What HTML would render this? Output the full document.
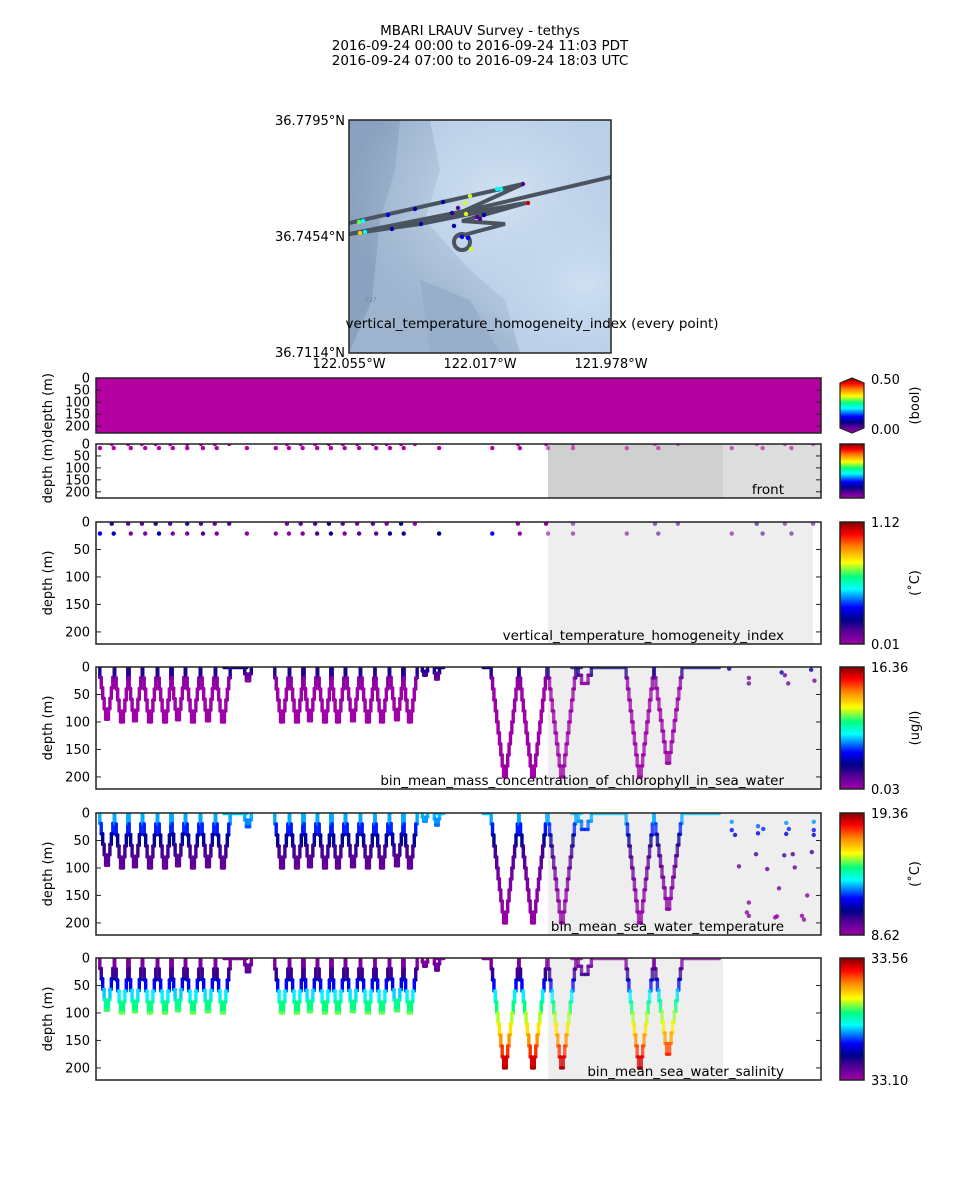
<!DOCTYPE html>
<html><head><meta charset="utf-8">
<style>
html,body{margin:0;padding:0;background:#fff;}
svg{display:block;font-family:"DejaVu Sans","Liberation Sans",sans-serif;}
</style></head>
<body>
<svg id="chart" width="960" height="1200" viewBox="0 0 960 1200" xmlns="http://www.w3.org/2000/svg">
<defs>
<linearGradient id="cmap" x1="0" y1="1" x2="0" y2="0">
<stop offset="0" stop-color="#a000a8"/><stop offset="0.1" stop-color="#5a0098"/><stop offset="0.2" stop-color="#000088"/>
<stop offset="0.3" stop-color="#0000ff"/><stop offset="0.45" stop-color="#00ffff"/><stop offset="0.55" stop-color="#00ff80"/>
<stop offset="0.67" stop-color="#ffff00"/><stop offset="0.8" stop-color="#ff8000"/><stop offset="0.9" stop-color="#ff0000"/><stop offset="1" stop-color="#800000"/>
</linearGradient>
<radialGradient id="m1" cx="0.6" cy="0.35" r="0.6"><stop offset="0" stop-color="#d6e4f3"/><stop offset="1" stop-color="#b7cde6" stop-opacity="0"/></radialGradient>
<radialGradient id="m2" cx="0.9" cy="0.7" r="0.5"><stop offset="0" stop-color="#cfe0f2"/><stop offset="1" stop-color="#b7cde6" stop-opacity="0"/></radialGradient>
<clipPath id="mapclip"><rect x="349" y="120" width="262" height="233"/></clipPath>
</defs>
<g font-size="13.5" text-anchor="middle" fill="#000" xml:space="preserve" style="white-space:pre">
<text x="480" y="35">MBARI LRAUV Survey - tethys</text>
<text x="480" y="50">2016-09-24 00:00  to  2016-09-24 11:03 PDT</text>
<text x="480" y="65">2016-09-24 07:00  to  2016-09-24 18:03 UTC</text>
</g>
<g>
<g clip-path="url(#mapclip)">
<rect x="349" y="120" width="262" height="233" fill="#9db3ce"/>
<path d="M349 120 L400 120 L395 170 L380 220 L372 300 L349 353Z" fill="#8aa2bf"/>
<path d="M430 120 L611 120 L611 353 L520 353 L505 300 L470 270 L425 220 L440 170Z" fill="#b9cfe8"/>
<rect x="349" y="120" width="262" height="233" fill="url(#m1)"/>
<rect x="349" y="120" width="262" height="233" fill="url(#m2)"/>
<path d="M420 280 L470 300 L500 353 L430 353Z" fill="#97afcb"/>
<g fill="none" stroke="#4a5360" stroke-width="4" stroke-linecap="round">
<path d="M349 223 L523 184 L453 216 L526 203 L462 221 L505 224 L460 236"/>
<path d="M349 234 L470 210 L611 177"/>
<path d="M349 234 L420 224 L520 204"/>
<circle cx="462" cy="242" r="8"/>
</g>
<text x="365" y="302" font-size="6" font-style="italic" fill="#6b7f99">737</text>
</g>
<g id="mapdots"></g>
<rect x="349" y="120" width="262" height="233" fill="none" stroke="#222" stroke-width="1.5"/>
<g font-size="13" fill="#000">
<text x="345" y="125" text-anchor="end">36.7795°N</text>
<text x="345" y="241" text-anchor="end">36.7454°N</text>
<text x="345" y="357" text-anchor="end">36.7114°N</text>
<text x="349" y="368" text-anchor="middle">122.055°W</text>
<text x="480" y="368" text-anchor="middle">122.017°W</text>
<text x="611" y="368" text-anchor="middle">121.978°W</text>
<text x="532" y="328" text-anchor="middle" font-size="13.5">vertical_temperature_homogeneity_index (every point)</text>
</g>
</g>
<g id="panels"></g>
</svg>
<script>
// ---- data ----
var timeDomain = [0, 11.05];
var depthTicks = [0, 50, 100, 150, 200];
var diveTimes = [0.168,0.396,0.594,0.823,1.052,1.25,1.478,1.707,1.935,2.317,2.835,3.063,3.261,3.49,3.688,3.917,4.145,4.359,4.587,4.785,5.014,5.197,6.233,6.66,7.102,7.45,8.29,8.72];
var diveDepths = [95,100,98,100,100,96,100,98,100,25,100,100,98,100,100,98,100,100,96,100,15,22,200,200,200,30,200,175];
var diveHalfWidth = [0.11,0.11,0.11,0.11,0.11,0.11,0.11,0.11,0.11,0.05,0.11,0.11,0.11,0.11,0.11,0.11,0.11,0.11,0.11,0.11,0.04,0.04,0.21,0.21,0.21,0.1,0.21,0.21];
var surfaceRuns = [[1.95,2.3],[5.2,5.3],[5.9,6.02],[7.25,7.4],[7.55,8.05],[8.95,9.5]];
var topRowTimes = [0.24,0.49,0.70,0.91,1.13,1.39,1.60,1.81,2.03,2.91,3.12,3.34,3.55,3.76,3.98,4.22,4.43,4.65,4.86,6.43,6.86,7.27,8.52,8.87,10.07,10.50,10.93];
var topRowVals = [0.15,0.08,0.1,0.15,0.1,0.15,0.1,0.08,0.1,0.05,0.1,0.1,0.2,0.1,0.05,0.1,0.05,0.2,0.02,0.02,0.02,0.05,0.12,0.1,0.2,0.05,0.1];
var botRowTimes = [0.06,0.27,0.53,0.75,0.96,1.17,1.39,1.63,1.84,2.30,2.74,2.94,3.15,3.37,3.58,3.79,4.01,4.27,4.48,4.69,5.23,6.04,6.46,6.89,7.27,8.09,8.57,9.69,10.16,10.60];
var botRowVals = [0.28,0.25,0.05,0.05,0.25,0.05,0.05,0.12,0.05,0.02,0.02,0.02,0.05,0.12,0.2,0.05,0.1,0.1,0.2,0.18,0.2,0.3,0.02,0.02,0.05,0.05,0.1,0.05,0.12,0.08];
var tempScatterT = [9.69,9.69,9.74,9.80,9.95,9.92,9.95,10.06,10.09,10.09,10.17,10.23,10.41,10.35,10.38,10.49,10.52,10.52,10.56,10.62,10.65,10.84,10.76,10.79,10.91,10.94,10.94,10.94];
var tempScatterD = [16,31,40,97,163,181,187,75,24,37,29,102,137,190,188,77,18,38,29,75,99,150,187,194,71,16,31,40];
var chlScatterT = [9.65,9.95,9.95,10.45,10.5,10.55,10.9,10.95];
var chlScatterD = [3,20,30,10,15,30,5,25];
var chlKnotsD = [0,10,25,50,250], chlKnotsV = [0.2,0.16,0.03,0,0];
var tempKnotsD = [0,20,40,70,100,150,250], tempKnotsV = [0.42,0.38,0.25,0.13,0.08,0.03,0];
var salKnotsD = [0,25,50,75,100,125,150,175,200,250], salKnotsV = [0.02,0.1,0.3,0.48,0.6,0.68,0.78,0.88,0.97,1];

var panels = [
 {name:'homogeneity-every-point', top:378, bot:433, dmax:228, cb:['0.50','0.00'], unit:'(bool)', arrows:true},
 {name:'front', top:444, bot:498, dmax:226, cb:null, unit:null, label:'front'},
 {name:'vertical-temperature-homogeneity', top:522, bot:644, dmax:222, cb:['1.12','0.01'], unit:'(\u02daC)', label:'vertical_temperature_homogeneity_index'},
 {name:'chlorophyll', top:667, bot:789, dmax:222, cb:['16.36','0.03'], unit:'(ug/l)', label:'bin_mean_mass_concentration_of_chlorophyll_in_sea_water'},
 {name:'temperature', top:813, bot:935, dmax:222, cb:['19.36','8.62'], unit:'(\u02daC)', label:'bin_mean_sea_water_temperature'},
 {name:'salinity', top:958, bot:1080, dmax:222, cb:['33.56','33.10'], unit:null, label:'bin_mean_sea_water_salinity'}
];

// ---- helpers ----
var NS='http://www.w3.org/2000/svg';
var X0=96, X1=821, SH0=548;
function xs(t){return X0+(t-timeDomain[0])/(timeDomain[1]-timeDomain[0])*(X1-X0);}
function mk(tag,attrs,parent){var e=document.createElementNS(NS,tag);for(var k in attrs)e.setAttribute(k,attrs[k]);parent.appendChild(e);return e;}
var stops=[[0,[160,0,168]],[0.1,[90,0,152]],[0.2,[0,0,136]],[0.3,[0,0,255]],[0.45,[0,255,255]],[0.55,[0,255,128]],[0.67,[255,255,0]],[0.8,[255,128,0]],[0.9,[255,0,0]],[1,[128,0,0]]];
function cmap(v){v=Math.max(0,Math.min(1,v));for(var i=1;i<stops.length;i++){if(v<=stops[i][0]){var a=stops[i-1],b=stops[i],f=(v-a[0])/(b[0]-a[0]);return 'rgb('+[0,1,2].map(function(j){return Math.round(a[1][j]+f*(b[1][j]-a[1][j]));}).join(',')+')';}}return 'rgb(128,0,0)';}
function interp(d,kd,kv){for(var i=1;i<kd.length;i++){if(d<=kd[i]){var f=(d-kd[i-1])/(kd[i]-kd[i-1]);return kv[i-1]+f*(kv[i]-kv[i-1]);}}return kv[kv.length-1];}

var root=document.getElementById('panels');
panels.forEach(function(p,pi){
 var g=mk('g',{},root);
 
 
 var ys=function(d){return p.top+d/p.dmax*(p.bot-p.top);};
 var clipId='clip'+pi;
 var cp=mk('clipPath',{id:clipId},g);mk('rect',{x:X0,y:p.top,width:X1-X0,height:p.bot-p.top},cp);
 var body=mk('g',{'clip-path':'url(#'+clipId+')'},g);
 if(pi===0){var r=mk('rect',{x:X0,y:p.top,width:X1-X0,height:p.bot-p.top,fill:'#b400a0'},body);}
 if(pi===1){mk('rect',{x:SH0,y:p.top,width:723-SH0,height:p.bot-p.top,fill:'#d0d0d0'},body);mk('rect',{x:723,y:p.top,width:X1-723,height:p.bot-p.top,fill:'#dddddd'},body);}
 if(pi===2)mk('rect',{x:SH0,y:p.top,width:813-SH0,height:p.bot-p.top,fill:'#eeeeee'},body);
 if(pi===3||pi===4)mk('rect',{x:SH0,y:p.top,width:X1-SH0,height:p.bot-p.top,fill:'#eeeeee'},body);
 if(pi===5)mk('rect',{x:SH0,y:p.top,width:723-SH0,height:p.bot-p.top,fill:'#eeeeee'},body);
 if(pi===1||pi===2){
  topRowTimes.forEach(function(t,i){var c=mk('circle',{cx:xs(t),cy:ys(pi===1?0:3),r:2.2,fill:pi===1?'#b400a8':cmap(topRowVals[i]),opacity:xs(t)>SH0?0.6:1},body);});
  botRowTimes.forEach(function(t,i){var c=mk('circle',{cx:xs(t),cy:ys(pi===1?17:21),r:2.2,fill:pi===1?'#b400a8':cmap(botRowVals[i]),opacity:xs(t)>SH0?0.6:1},body);});
 }
 if(pi>=3){
  var kd=pi===3?chlKnotsD:pi===4?tempKnotsD:salKnotsD, kv=pi===3?chlKnotsV:pi===4?tempKnotsV:salKnotsV;
  function seg(t1,d1,t2,d2){var op=xs(t1)>SH0-2?0.75:1;var l=mk('line',{x1:xs(t1),y1:ys(d1),x2:xs(t2),y2:ys(d2),stroke:cmap(interp((d1+d2)/2,kd,kv)),'stroke-width':3.4,'stroke-linecap':'round',opacity:op},body);}
  surfaceRuns.forEach(function(r){seg(r[0],1,r[1],1);});
  diveTimes.forEach(function(tb,i){
   var D=diveDepths[i],hw=diveHalfWidth[i],n=Math.max(2,Math.round(D/20));
   for(var s=0;s<n;s++){
    var d1=D*s/n,d2=D*(s+1)/n;
    var ta=tb-hw+hw*s/n,tb2=tb-hw+hw*(s+1)/n;
    seg(ta,d1,ta,d2);seg(ta,d2,tb2,d2);
    var ua=tb+hw-hw*s/n,ub=tb+hw-hw*(s+1)/n;
    seg(ua,d1,ua,d2);seg(ua,d2,ub,d2);
   }
  });
  if(pi===4)tempScatterT.forEach(function(t,i){var c=mk('circle',{cx:xs(t),cy:ys(tempScatterD[i]),r:2.2,fill:cmap(interp(tempScatterD[i],kd,kv)),opacity:0.8},body);});
  if(pi===3)chlScatterT.forEach(function(t,i){var c=mk('circle',{cx:xs(t),cy:ys(chlScatterD[i]),r:2.2,fill:cmap(chlScatterD[i]<12?0.22:0.05),opacity:0.8},body);});
 }
 mk('rect',{x:X0,y:p.top,width:X1-X0,height:p.bot-p.top,fill:'none',stroke:'#222','stroke-width':1.5},g);
 depthTicks.forEach(function(d){var y=ys(d);if(y>p.bot+1)return;mk('line',{x1:X0,y1:y,x2:X0+5,y2:y,stroke:'#222'},g);mk('line',{x1:X1,y1:y,x2:X1-5,y2:y,stroke:'#222'},g);
  var tx=mk('text',{x:X0-6,y:y+4.5,'font-size':13,'text-anchor':'end'},g);tx.textContent=d;});
 var yl=mk('text',{x:0,y:0,'font-size':13,'text-anchor':'middle',transform:'translate(52,'+((p.top+p.bot)/2)+') rotate(-90)'},g);yl.textContent='depth (m)';
 
 if(p.label){var pl=mk('text',{x:784,y:p.bot-4,'font-size':13.5,'text-anchor':'end'},g);pl.textContent=p.label;}
 var cb=mk('g',{},g);
 if(p.arrows){
  mk('path',{d:'M840 '+(p.top+5)+' L852 '+(p.top)+' L864 '+(p.top+5)+' L864 '+(p.bot-5)+' L852 '+p.bot+' L840 '+(p.bot-5)+'Z',fill:'url(#cmap)',stroke:'#222','stroke-width':1.2},cb);
 } else {
  mk('rect',{x:840,y:p.top,width:24,height:p.bot-p.top,fill:'url(#cmap)',stroke:'#222','stroke-width':1.5},cb);
 }
 if(p.cb){var a=mk('text',{x:871,y:p.top+(p.arrows?6:5),'font-size':13},cb);a.textContent=p.cb[0];var b=mk('text',{x:871,y:p.bot+(p.arrows?1:5),'font-size':13},cb);b.textContent=p.cb[1];}
 if(p.unit){var u=mk('text',{x:0,y:0,'font-size':13,'text-anchor':'middle',transform:'translate(919,'+((p.top+p.bot)/2)+') rotate(-90)'},cb);u.textContent=p.unit;}
});

var mapDotLon=[359,363,388,415,443,465,470,497,501,523,528,360,365,392,421,452,458,466,477,480,484,454,462,468,471];
var mapDotLat=[222,221,215,209,202,203,196,189,189,184,203,233,232,229,224,213,208,214,217,219,215,226,237,238,249];
var mapDotVal=[0.6,0.45,0.28,0.22,0.22,0.65,0.64,0.45,0.45,0.1,0.95,0.72,0.45,0.22,0.22,0.15,0.1,0.65,0.1,0.12,0.22,0.22,0.28,0.3,0.65];
var md=document.getElementById('mapdots');
mapDotLon.forEach(function(x,i){var c=mk('circle',{cx:x,cy:mapDotLat[i],r:2.2,fill:cmap(mapDotVal[i])},md);});
</script>
</body></html>
